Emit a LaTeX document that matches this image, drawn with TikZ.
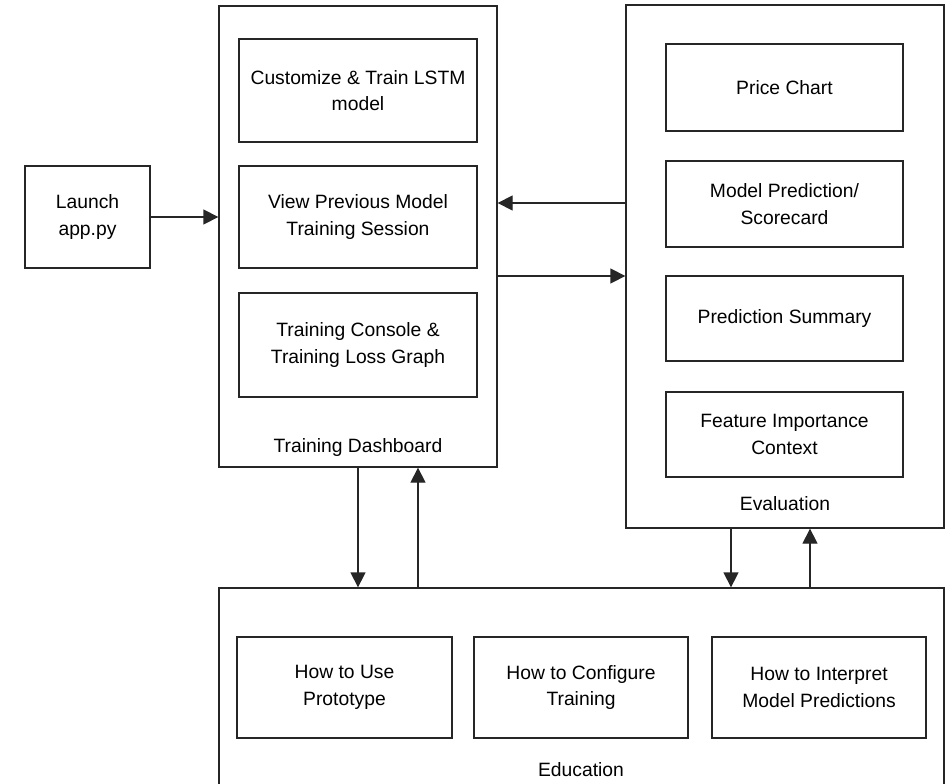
\documentclass[tikz,border=0pt]{standalone}
\usepackage{fontspec}
\setmainfont{Liberation Sans}
\usetikzlibrary{arrows.meta}
\begin{document}
\begin{tikzpicture}[x=1pt,y=-1pt,
  box/.style={draw=black!85,line width=1.3pt,fill=white,align=center,inner sep=0pt},
  lbl/.style={align=center,inner sep=0pt},
  arr/.style={draw=black!85,line width=1.3pt,-{Triangle[length=15pt,width=15pt]}},
  every node/.append style={font=\fontsize{19.3}{26.5}\selectfont}]
\useasboundingbox (0,0) rectangle (950,784);
% outer containers
\node[box,minimum width=125pt,minimum height=102pt] (launch) at (87.5,217) {Launch\\app.py};
\node[box,minimum width=278pt,minimum height=461pt] (td) at (358,236.5) {};
\node[box,minimum width=318pt,minimum height=523pt] (eval) at (785,266.5) {};
\node[box,minimum width=725pt,minimum height=230pt] (edu) at (581.5,703) {};
% training dashboard content
\node[box,minimum width=238pt,minimum height=103pt] (td1) at (358,90.5) {Customize \& Train LSTM\\model};
\node[box,minimum width=238pt,minimum height=102pt] (td2) at (358,217) {View Previous Model\\Training Session};
\node[box,minimum width=238pt,minimum height=104pt] (td3) at (358,345) {Training Console \&\\Training Loss Graph};
\node[lbl] (tdlabel) at (358,448) {Training Dashboard};
% evaluation content
\node[box,minimum width=237pt,minimum height=87pt] (e1) at (784.5,87.5) {Price Chart};
\node[box,minimum width=237pt,minimum height=86pt] (e2) at (784.5,204) {Model Prediction/\\Scorecard};
\node[box,minimum width=237pt,minimum height=85pt] (e3) at (784.5,318.5) {Prediction Summary};
\node[box,minimum width=237pt,minimum height=85pt] (e4) at (784.5,434.5) {Feature Importance\\Context};
\node[lbl] (evallabel) at (785,504) {Evaluation};
% education content
\node[box,minimum width=215pt,minimum height=101pt] (ed1) at (344.5,687.5) {How to Use\\Prototype};
\node[box,minimum width=214pt,minimum height=101pt] (ed2) at (581,687.5) {How to Configure\\Training};
\node[box,minimum width=214pt,minimum height=101pt] (ed3) at (819,687.5) {How to Interpret\\Model Predictions};
\node[lbl] (edulabel) at (581,770) {Education};
% connectors
\draw[arr] (launch.east) -- (launch.east -| td.west);
\draw[arr] (eval.west |- 0,203) -- (td.east |- 0,203);
\draw[arr] (td.east |- 0,276) -- (eval.west |- 0,276);
\draw[arr] (td.south -| 358,0) -- (edu.north -| 358,0);
\draw[arr] (edu.north -| 418,0) -- (td.south -| 418,0);
\draw[arr] (eval.south -| 731,0) -- (edu.north -| 731,0);
\draw[arr] (edu.north -| 810,0) -- (eval.south -| 810,0);
\end{tikzpicture}
\end{document}
